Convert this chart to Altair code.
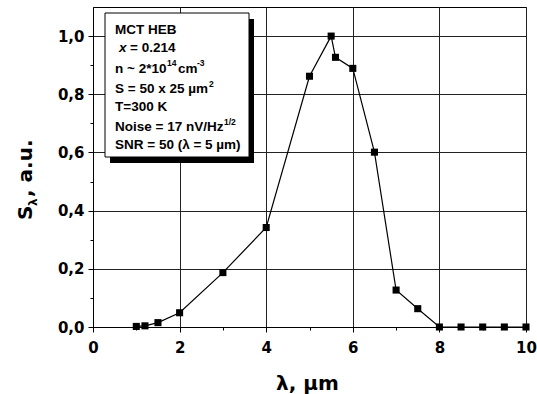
import altair as alt
import pandas as pd

# Spectral response of the MCT hot-electron bolometer
wavelength = [1.0, 1.2, 1.5, 2.0, 3.0, 4.0, 5.0, 5.5, 5.6, 6.0, 6.5, 7.0, 7.5, 8.0, 8.5, 9.0, 9.5, 10.0]
response = [0.002, 0.004, 0.015, 0.049, 0.187, 0.342, 0.862, 1.0, 0.927, 0.889, 0.601, 0.127, 0.063, 0.0, 0.0, 0.0, 0.0, 0.0]

x_ticks = list(range(0, 11))
y_ticks = [round(i * 0.1, 1) for i in range(11)]

# Device parameters shown in the inset box: (text, kind) pieces per line
info_lines = [
    [("MCT HEB", False)],
    [("x", "italic"), ("= 0.214", False)],
    [("n ~ 2*10", False), ("14", True), ("cm", False), ("-3", True)],
    [("S = 50 x 25 µm", False), ("2", True)],
    [("T=300 K", False)],
    [("Noise = 17 nV/Hz", False), ("1/2", True)],
    [("SNR = 50 (λ = 5 µm)", False)],
]

W, H = 433, 320
TXT = "Liberation Sans"
AX = "DejaVu Sans"

df = pd.DataFrame({"wavelength": wavelength, "response": response})
one = pd.DataFrame({"k": [0]})

x_major = "datum.value % 2 == 0"
y_major = "round(datum.value * 10) % 2 == 0"


def make_axis(values, major, label_expr, pad):
    return alt.Axis(
        values=values,
        labelExpr=label_expr,
        title=None,
        grid=True,
        gridColor="#222",
        gridWidth=1,
        gridOpacity={"condition": {"test": major, "value": 1}, "value": 0},
        tickSize={"condition": {"test": major, "value": 5}, "value": 3},
        tickColor="black",
        domainColor="black",
        labelFont=AX,
        labelFontSize=15,
        labelFontWeight="bold",
        labelColor="black",
        labelPadding=pad,
        labelFlush=False,
    )


x_axis = make_axis(x_ticks, x_major, f"{x_major} ? format(datum.value, 'd') : ''", 8)
y_axis = make_axis(y_ticks, y_major,
                   f"{y_major} ? replace(format(datum.value, '.1f'), '.', ',') : ''", 4)

x_enc = alt.X("wavelength:Q", scale=alt.Scale(domain=[0, 10], nice=False), axis=x_axis)
y_enc = alt.Y("response:Q", scale=alt.Scale(domain=[0, 1.1], nice=False), axis=y_axis)

curve = alt.Chart(df).mark_line(color="black", strokeWidth=1.2, clip=False).encode(x=x_enc, y=y_enc)
dots = alt.Chart(df).mark_square(size=50, color="black", opacity=1, clip=False).encode(x=x_enc, y=y_enc)


def label(text, x, y, size=13.5, font=TXT, style="normal", angle=0, baseline="alphabetic"):
    return alt.Chart(one).mark_text(
        text=text, font=font, fontSize=size, fontWeight="bold", fontStyle=style,
        align="left", baseline=baseline, angle=angle, color="black",
    ).encode(x=alt.value(x), y=alt.value(y))


# inset box with drop shadow
box_x0, box_y0, box_x1, box_y1 = 12, 6, 156, 150
shadow = alt.Chart(one).mark_rect(color="black").encode(
    x=alt.value(box_x0 + 5), x2=alt.value(box_x1 + 5),
    y=alt.value(box_y0 + 6), y2=alt.value(box_y1 + 6),
)
box = alt.Chart(one).mark_rect(fill="white", stroke="black", strokeWidth=1).encode(
    x=alt.value(box_x0), x2=alt.value(box_x1), y=alt.value(box_y0), y2=alt.value(box_y1),
)

baselines = [27, 45, 65.5, 86, 104, 124, 142]
piece_x = {
    (1, 0): 26, (1, 1): 37,
    (2, 0): 22, (2, 1): 74, (2, 2): 85, (2, 3): 104,
    (3, 0): 22, (3, 1): 116,
    (5, 0): 22, (5, 1): 131,
}
info_layers = []
for i, line in enumerate(info_lines):
    for j, (txt, kind) in enumerate(line):
        px = piece_x.get((i, j), 22)
        if kind is True:
            info_layers.append(label(txt, px, baselines[i] - 6.5, size=8.5))
        elif kind == "italic":
            info_layers.append(label(txt, px, baselines[i], style="italic"))
        else:
            info_layers.append(label(txt, px, baselines[i]))

# axis titles
titles = [
    label("λ, µm", 183, 377, size=20, font=AX, baseline="middle"),
    label("S", -61, 213, size=20, font=AX, angle=270),
    label("λ", -56, 199, size=12, font=AX, angle=270),
    label(", a.u.", -61, 190, size=20, font=AX, angle=270),
]

chart = alt.layer(curve, dots, shadow, box, *info_layers, *titles).properties(
    width=W,
    height=H,
    autosize="none",
    padding={"left": 93, "top": 7, "right": 11, "bottom": 67},
).configure_view(stroke="black", strokeWidth=1)

chart.save("out.html", embed_options={"renderer": "svg", "actions": False})
